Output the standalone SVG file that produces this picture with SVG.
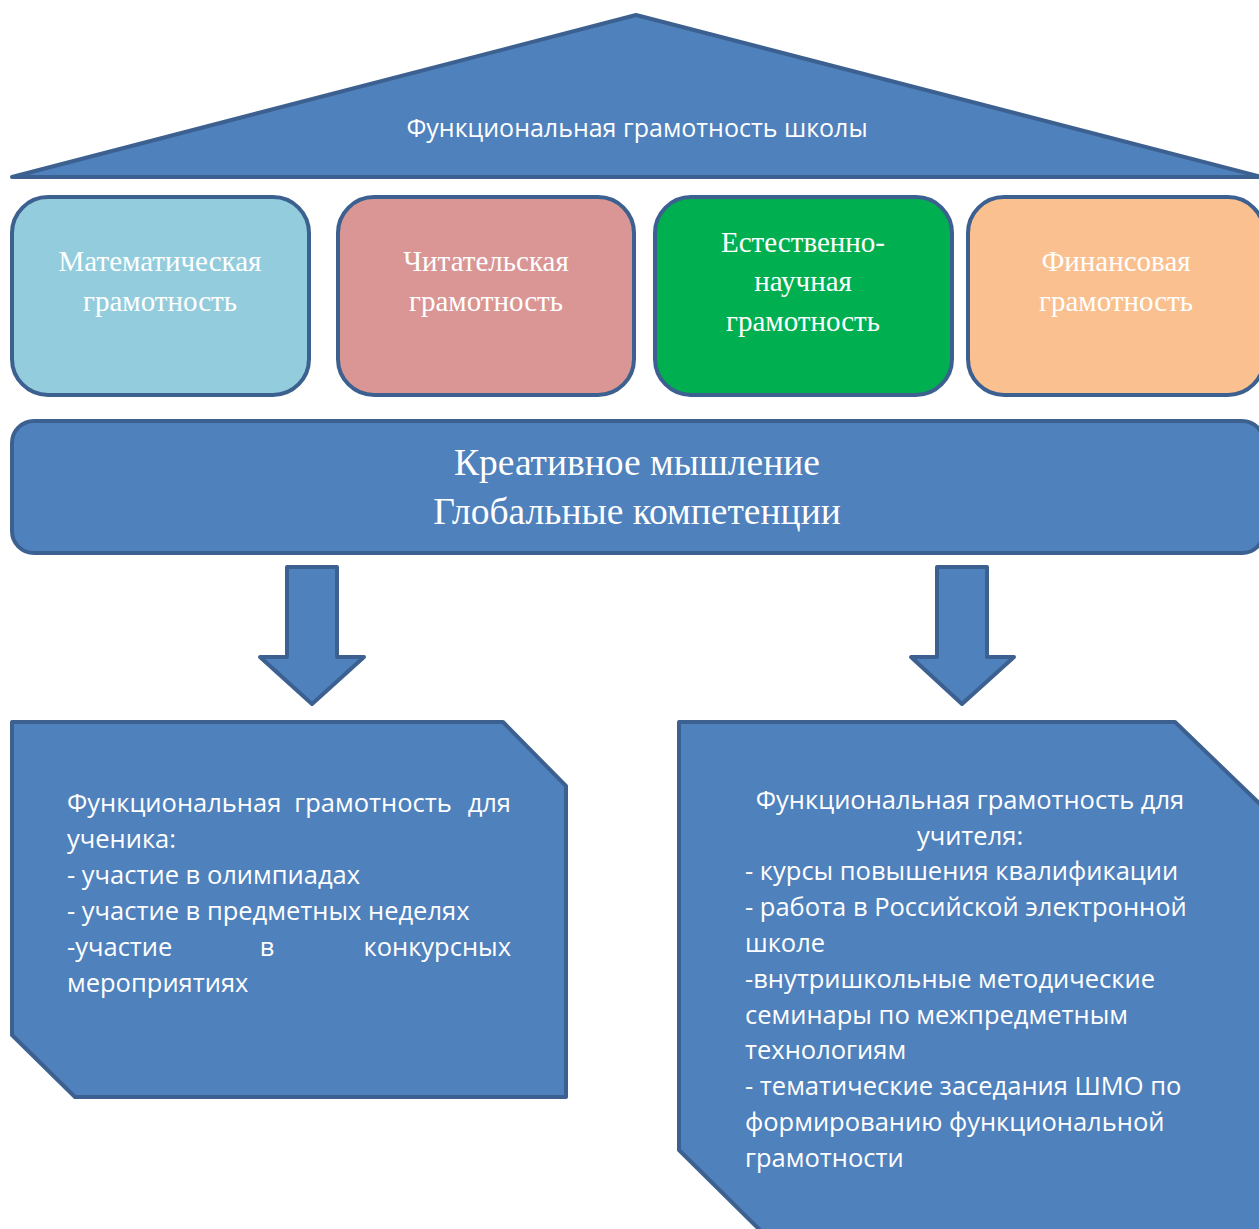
<svg xmlns="http://www.w3.org/2000/svg" width="1259" height="1229" viewBox="0 0 1259 1229">
<style>
.shape{fill:#4f81bd;stroke:#3c6190;stroke-width:4;stroke-linejoin:round}
.card{stroke:#3c6190;stroke-width:4}
.serif{font-family:"Liberation Serif","DejaVu Serif",serif;fill:#fff;text-anchor:middle}
.sans{font-family:"Open Sans","Liberation Sans",sans-serif;fill:#fff}
.box{font-size:29px}
.body{font-size:25.5px}
</style>
<rect width="1259" height="1229" fill="#fff"/>
<g id="roof">
<polygon class="shape" points="636,15 1262,177 12,177"/>
<text class="sans" x="637" y="137" font-size="25" text-anchor="middle">Функциональная грамотность школы</text>
</g>
<g id="math">
<rect class="card" x="12" y="197" width="297" height="198" rx="36" fill="#93cddd"/>
<text class="serif box" x="160" y="271">Математическая</text>
<text class="serif box" x="160" y="311">грамотность</text>
</g>
<g id="reading">
<rect class="card" x="338" y="197" width="296" height="198" rx="36" fill="#d99694"/>
<text class="serif box" x="486" y="271">Читательская</text>
<text class="serif box" x="486" y="311">грамотность</text>
</g>
<g id="science">
<rect class="card" x="655" y="197" width="297" height="198" rx="36" fill="#00b050"/>
<text class="serif box" x="803" y="252">Естественно-</text>
<text class="serif box" x="803" y="291">научная</text>
<text class="serif box" x="803" y="331">грамотность</text>
</g>
<g id="finance">
<rect class="card" x="968" y="197" width="296" height="198" rx="36" fill="#fac090"/>
<text class="serif box" x="1116" y="271">Финансовая</text>
<text class="serif box" x="1116" y="311">грамотность</text>
</g>
<g id="creative">
<rect class="shape" x="12" y="421" width="1252" height="132" rx="22"/>
<text class="serif" x="637" y="475" font-size="37.5">Креативное мышление</text>
<text class="serif" x="637" y="524" font-size="37.5">Глобальные компетенции</text>
</g>
<g id="connectors">
<polygon class="shape" points="287,567 337,567 337,657 364,657 312,704 260,657 287,657"/>
<polygon class="shape" points="937,567 987,567 987,657 1014,657 962,704 911,657 937,657"/>
</g>
<g id="student">
<polygon class="shape" points="12,722 503,722 566,786 566,1097 75,1097 12,1035"/>
<text class="sans body" x="67" y="812">Функциональная</text>
<text class="sans body" x="373" y="812" text-anchor="middle">грамотность</text>
<text class="sans body" x="511" y="812" text-anchor="end">для</text>
<text class="sans body" x="67" y="848">ученика:</text>
<text class="sans body" x="67" y="884">- участие в олимпиадах</text>
<text class="sans body" x="67" y="920">- участие в предметных неделях</text>
<text class="sans body" x="67" y="956">-участие</text>
<text class="sans body" x="267" y="956" text-anchor="middle">в</text>
<text class="sans body" x="511" y="956" text-anchor="end">конкурсных</text>
<text class="sans body" x="67" y="992">мероприятиях</text>
</g>
<g id="teacher">
<polygon class="shape" points="679,722 1175,722 1262,806 1262,1240 770,1240 679,1150"/>
<text class="sans body" x="970" y="809" text-anchor="middle">Функциональная грамотность для</text>
<text class="sans body" x="970" y="845" text-anchor="middle">учителя:</text>
<text class="sans body" x="745" y="880">- курсы повышения квалификации</text>
<text class="sans body" x="745" y="916">- работа в Российской электронной</text>
<text class="sans body" x="745" y="952">школе</text>
<text class="sans body" x="745" y="988">-внутришкольные методические</text>
<text class="sans body" x="745" y="1024">семинары по межпредметным</text>
<text class="sans body" x="745" y="1059">технологиям</text>
<text class="sans body" x="745" y="1095">- тематические заседания ШМО по</text>
<text class="sans body" x="745" y="1131">формированию функциональной</text>
<text class="sans body" x="745" y="1167">грамотности</text>
</g>
</svg>
